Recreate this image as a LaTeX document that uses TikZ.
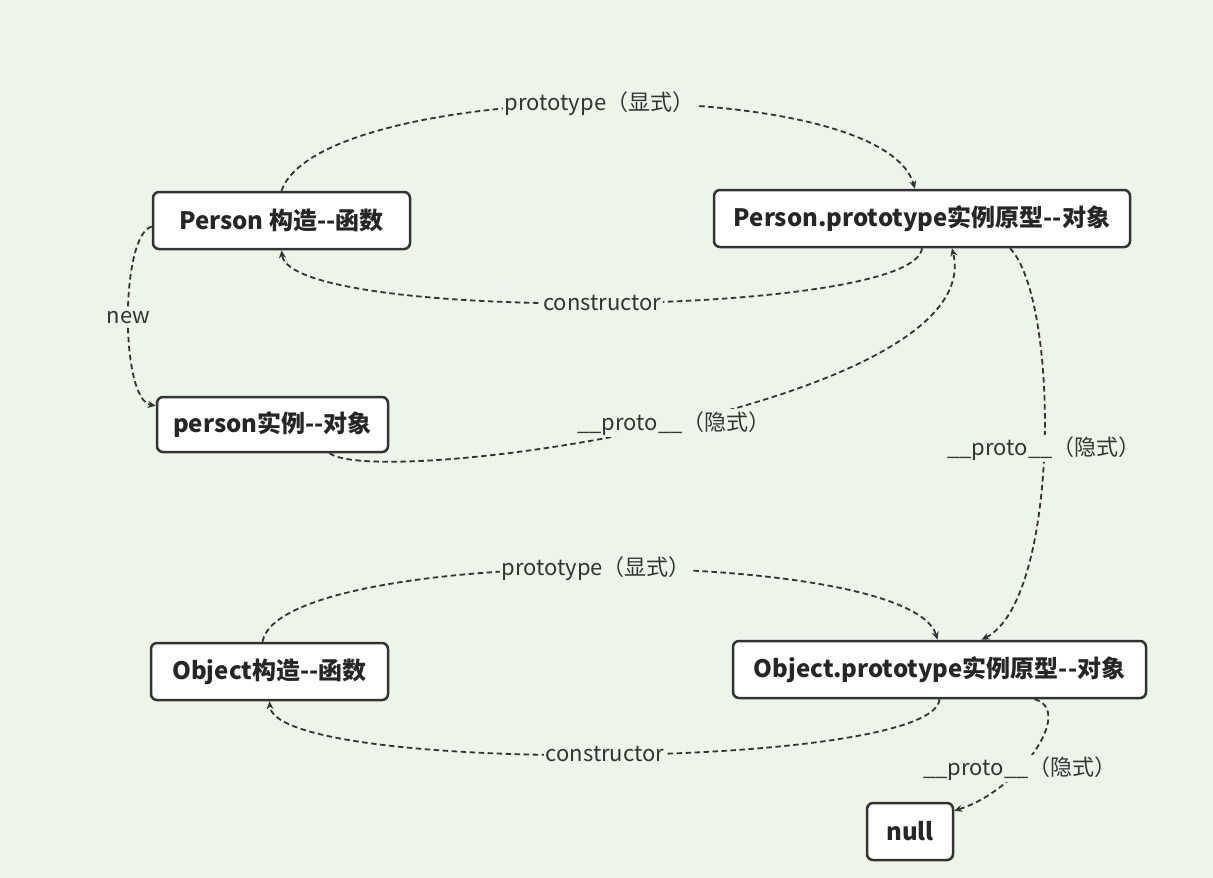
\documentclass[tikz,border=0pt]{standalone}
\usepackage{fontspec}
\setmainfont{Noto Sans CJK SC}
\usetikzlibrary{arrows.meta}
\definecolor{bg}{HTML}{EDF5E8}
\definecolor{ink}{HTML}{333333}
\newcommand{\dd}{\mbox{-}\mbox{-}}
\begin{document}
\begin{tikzpicture}[x=1pt,y=-1pt,
  box/.style={draw=ink,line width=2.5pt,rounded corners=6pt,fill=white,
    text=black!85,font=\fontsize{24}{28}\selectfont\bfseries,inner sep=0pt},
  conn/.style={draw=ink,line width=1.8pt,dash pattern=on 5.5pt off 3.5pt,
    -{Stealth[length=8pt,width=7pt]}},
  lbl/.style={fill=bg,inner sep=2pt,text=ink,font=\fontsize{22}{26}\selectfont}]
\fill[bg] (0,0) rectangle (1213,878);
\useasboundingbox (0,0) rectangle (1213,878);

\node[box,minimum width=257pt,minimum height=57pt] (pc) at (281.5,220.5) {Person 构造\dd 函数};
\node[box,minimum width=416pt,minimum height=57pt] (pp) at (922,218.5) {Person.prototype实例原型\dd 对象};
\node[box,minimum width=231pt,minimum height=55pt] (pi) at (272.5,424.5) {person实例\dd 对象};
\node[box,minimum width=237pt,minimum height=57pt] (oc) at (269.5,671.5) {Object构造\dd 函数};
\node[box,minimum width=413pt,minimum height=57pt] (op) at (939.5,669.5) {Object.prototype实例原型\dd 对象};
\node[box,minimum width=86pt,minimum height=57pt] (nl) at (910,831.5) {null};

\draw[conn] (pc.north) .. controls (320,80) and (880,70) .. ([xshift=-7pt]pp.north)
  node[lbl,pos=0.5] {prototype（显式）};
\draw[conn] (pp.south) .. controls (915,318) and (290,323) .. (pc.south)
  node[lbl,pos=0.5] {constructor};
\draw[conn] ([yshift=-6pt]pc.west) .. controls (120,235) and (120,400) .. ([yshift=-10pt]pi.north west)
  node[lbl,pos=0.5] {new};
\draw[conn] ([xshift=57pt]pi.south) .. controls (380,490) and (990,405) .. ([xshift=30pt]pp.south)
  node[lbl,pos=0.5] {\_\_proto\_\_（隐式）};
\draw[conn] ([xshift=88pt]pp.south) .. controls (1060,300) and (1060,600) .. ([xshift=42pt]op.north)
  node[lbl,pos=0.5] {\_\_proto\_\_（隐式）};
\draw[conn] ([xshift=-7pt]oc.north) .. controls (280,545) and (910,545) .. ([xshift=-2pt]op.north)
  node[lbl,pos=0.5] {prototype（显式）};
\draw[conn] (op.south) .. controls (935,770) and (275,775) .. (oc.south)
  node[lbl,pos=0.5] {constructor};
\draw[conn] ([xshift=95pt]op.south) .. controls (1075,710) and (1020,790) .. ([yshift=-9pt]nl.north east)
  node[lbl,pos=0.62] {\_\_proto\_\_（隐式）};
\end{tikzpicture}
\end{document}
